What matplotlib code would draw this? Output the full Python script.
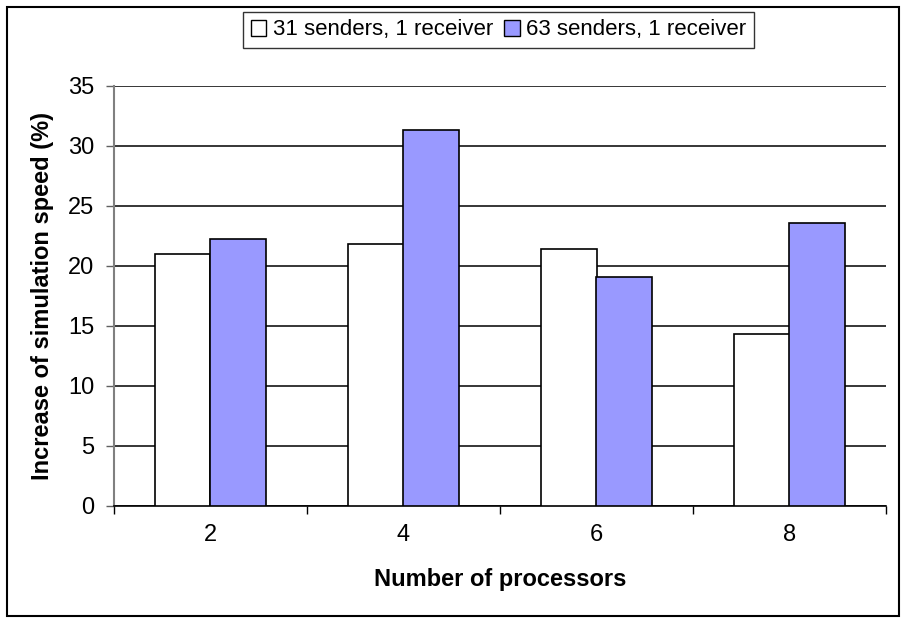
import matplotlib.pyplot as plt
from matplotlib.patches import Rectangle, Patch
import numpy as np

plt.rcParams['font.family'] = ['Liberation Sans', 'DejaVu Sans']

processors = ['2', '4', '6', '8']
senders_31 = [21.0, 21.8, 21.4, 14.3]
senders_63 = [22.25, 31.3, 19.1, 23.55]
labels = ['31 senders, 1 receiver', '63 senders, 1 receiver']

fig = plt.figure(figsize=(9.04, 6.18), dpi=100)
ax = fig.add_axes([114/904, 1 - 506/618, (886 - 114)/904, (506 - 86)/618])

x = np.arange(len(processors))
w = 0.29
ax.bar(x - w/2, senders_31, width=w, color='white', edgecolor='black', linewidth=1.2, zorder=3)
ax.bar(x + w/2, senders_63, width=w, color='#9999FF', edgecolor='black', linewidth=1.2, zorder=3)

ax.set_xlim(-0.5, len(processors) - 0.5)
ax.set_ylim(0, 35)
ax.set_yticks(range(0, 36, 5))
ax.yaxis.grid(True, color='black', linewidth=1.1, zorder=0)
ax.set_axisbelow(True)

# labels at category centres, tick marks at the boundaries
ax.set_xticks(x)
ax.set_xticklabels(processors)
ax.set_xticks(np.arange(-0.5, len(processors)), minor=True)
ax.tick_params(axis='x', which='major', length=0, pad=13, labelsize=17)
ax.tick_params(axis='x', which='minor', length=6, width=1, color='black')
ax.tick_params(axis='y', length=6, width=1, color='#606060', pad=8, labelsize=17)

for s in ['top', 'right']:
    ax.spines[s].set_visible(False)
ax.spines['left'].set_color('#808080')
ax.spines['left'].set_linewidth(1.5)
ax.spines['bottom'].set_color('black')
ax.spines['bottom'].set_linewidth(1.2)

ax.set_xlabel('Number of processors', fontsize=17, fontweight='bold', labelpad=16)
ax.set_ylabel('Increase of simulation speed (%)', fontsize=17, fontweight='bold', labelpad=10)

handles = [Patch(facecolor='white', edgecolor='black'),
           Patch(facecolor='#9999FF', edgecolor='black')]
leg = fig.legend(handles, labels, loc='center', bbox_to_anchor=(498.5/904, 1 - 30/618),
                 ncol=2, fontsize=16, frameon=True, fancybox=False,
                 handlelength=0.7, handleheight=0.7, handletextpad=0.3,
                 columnspacing=0.5, borderpad=0.35, borderaxespad=0)
leg.get_frame().set_edgecolor('black')
leg.get_frame().set_linewidth(1.0)

fig.patches.append(Rectangle((7/904, 2/618), 892/904, 609/618, transform=fig.transFigure,
                             fill=False, edgecolor='black', linewidth=1.5))

plt.savefig('out.png', dpi=100)
